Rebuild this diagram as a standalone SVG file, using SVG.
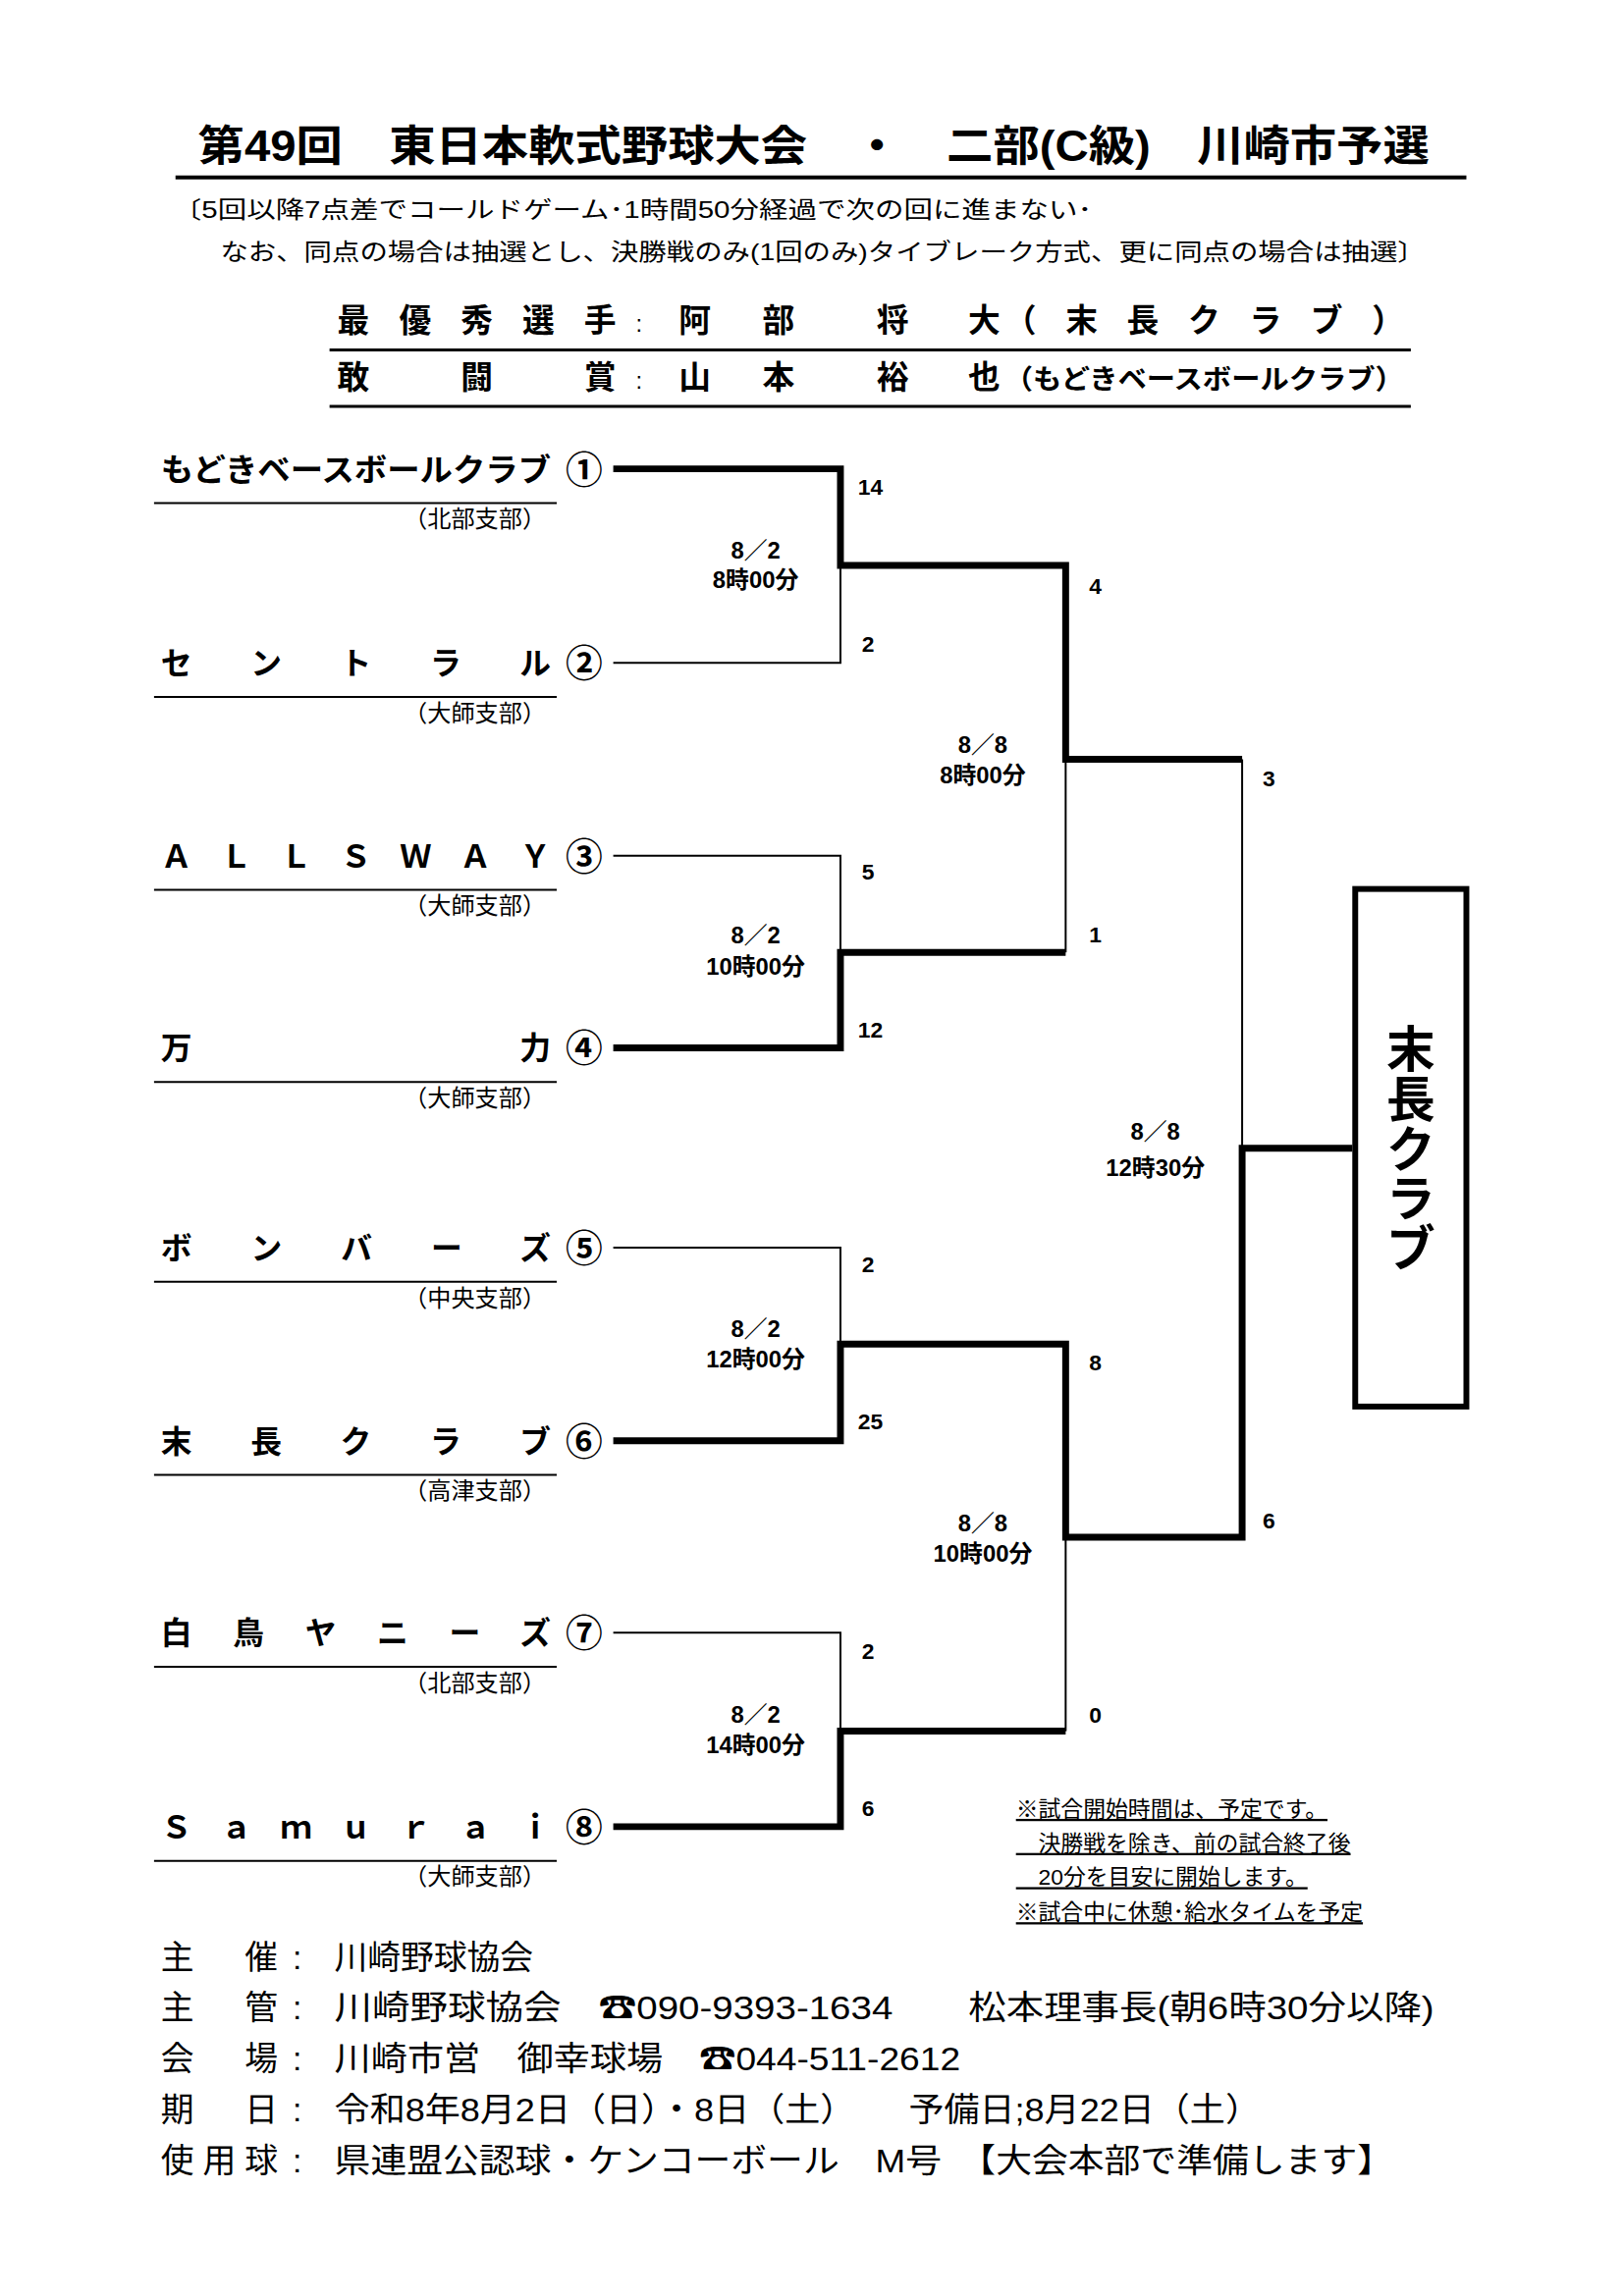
<svg xmlns="http://www.w3.org/2000/svg" width="1654" height="2339" viewBox="0 0 1654 2339">
<style>
text{font-family:"Liberation Sans","Noto Sans CJK JP",sans-serif;fill:#000}
.b{font-weight:bold}
.team{font-size:32px;font-weight:bold}
.br{font-size:24px}
.num{font-size:38px;font-weight:bold}
.sc{font-size:23px;font-weight:bold}
.dt{font-size:24px;font-weight:bold;text-anchor:middle}
.ft{font-size:34px}
.nt{font-size:23px;text-decoration:underline}
.thin{stroke:#000;stroke-width:2;fill:none}
.thick{stroke:#000;stroke-width:7;fill:none}
</style>
<rect width="1654" height="2339" fill="#fff"/>
<g transform="scale(0.993)">
<g id="title">
<text class="b" x="203" y="165" font-size="44" textLength="1263" lengthAdjust="spacingAndGlyphs">第49回　東日本軟式野球大会　・　二部(C級)　川崎市予選</text>
<line x1="180" y1="182" x2="1504" y2="182" stroke="#000" stroke-width="4"/>
</g>
<g id="notes">
<text x="177" y="224" font-size="24" textLength="943" lengthAdjust="spacingAndGlyphs">〔5回以降7点差でコールドゲーム･1時間50分経過で次の回に進まない･</text>
<text x="226" y="267" font-size="24" textLength="1236" lengthAdjust="spacingAndGlyphs">なお、同点の場合は抽選とし、決勝戦のみ(1回のみ)タイブレーク方式、更に同点の場合は抽選〕</text>
</g>
<g id="awards">
<text class="b" x="346" y="340" font-size="33" textLength="286" lengthAdjust="spacing">最優秀選手</text>
<text x="652" y="340" font-size="24">:</text>
<text class="b" x="696 782 899 993" y="340" font-size="33">阿部将大</text>
<text class="b" x="1030" y="340" font-size="33" textLength="410" lengthAdjust="spacing">（末長クラブ）</text>
<line x1="338" y1="359" x2="1447" y2="359" stroke="#000" stroke-width="3"/>
<text class="b" x="346" y="399" font-size="33" textLength="286" lengthAdjust="spacing">敢闘賞</text>
<text x="652" y="399" font-size="24">:</text>
<text class="b" x="696 782 899 993" y="399" font-size="33">山本裕也</text>
<text class="b" x="1030" y="399" font-size="28" textLength="410" lengthAdjust="spacingAndGlyphs">（もどきベースボールクラブ）</text>
<line x1="338" y1="417" x2="1447" y2="417" stroke="#000" stroke-width="3"/>
</g>
<g id="team1"><text class="team" x="165" y="493" textLength="400" lengthAdjust="spacingAndGlyphs">もどきベースボールクラブ</text><text class="num" x="599" y="495" text-anchor="middle">①</text><line x1="158" y1="516" x2="571" y2="516" stroke="#000" stroke-width="2"/><text class="br" x="414" y="541" textLength="146" lengthAdjust="spacingAndGlyphs">（北部支部）</text></g>
<g id="team2"><text class="team" x="165" y="692" textLength="400" lengthAdjust="spacing">セントラル</text><text class="num" x="599" y="694" text-anchor="middle">②</text><line x1="158" y1="715" x2="571" y2="715" stroke="#000" stroke-width="2"/><text class="br" x="414" y="740" textLength="146" lengthAdjust="spacingAndGlyphs">（大師支部）</text></g>
<g id="team3"><text class="team" x="165" y="890" textLength="400" lengthAdjust="spacing">ＡＬＬＳＷＡＹ</text><text class="num" x="599" y="892" text-anchor="middle">③</text><line x1="158" y1="913" x2="571" y2="913" stroke="#000" stroke-width="2"/><text class="br" x="414" y="938" textLength="146" lengthAdjust="spacingAndGlyphs">（大師支部）</text></g>
<g id="team4"><text class="team" x="165" y="1087" textLength="400" lengthAdjust="spacing">万力</text><text class="num" x="599" y="1089" text-anchor="middle">④</text><line x1="158" y1="1110" x2="571" y2="1110" stroke="#000" stroke-width="2"/><text class="br" x="414" y="1135" textLength="146" lengthAdjust="spacingAndGlyphs">（大師支部）</text></g>
<g id="team5"><text class="team" x="165" y="1292" textLength="400" lengthAdjust="spacing">ボンバーズ</text><text class="num" x="599" y="1294" text-anchor="middle">⑤</text><line x1="158" y1="1315" x2="571" y2="1315" stroke="#000" stroke-width="2"/><text class="br" x="414" y="1340" textLength="146" lengthAdjust="spacingAndGlyphs">（中央支部）</text></g>
<g id="team6"><text class="team" x="165" y="1490" textLength="400" lengthAdjust="spacing">末長クラブ</text><text class="num" x="599" y="1492" text-anchor="middle">⑥</text><line x1="158" y1="1513" x2="571" y2="1513" stroke="#000" stroke-width="2"/><text class="br" x="414" y="1538" textLength="146" lengthAdjust="spacingAndGlyphs">（高津支部）</text></g>
<g id="team7"><text class="team" x="165" y="1687" textLength="400" lengthAdjust="spacing">白鳥ヤニーズ</text><text class="num" x="599" y="1689" text-anchor="middle">⑦</text><line x1="158" y1="1710" x2="571" y2="1710" stroke="#000" stroke-width="2"/><text class="br" x="414" y="1735" textLength="146" lengthAdjust="spacingAndGlyphs">（北部支部）</text></g>
<g id="team8"><text class="team" x="165" y="1886" textLength="400" lengthAdjust="spacing">Ｓａｍｕｒａｉ</text><text class="num" x="599" y="1888" text-anchor="middle">⑧</text><line x1="158" y1="1909" x2="571" y2="1909" stroke="#000" stroke-width="2"/><text class="br" x="414" y="1934" textLength="146" lengthAdjust="spacingAndGlyphs">（大師支部）</text></g>
<g id="connectors">
<polyline class="thick" points="629,481 862,481 862,580 1093,580 1093,779 1274,779"/>
<polyline class="thin" points="629,680 862,680 862,580"/>
<polyline class="thin" points="629,878 862,878 862,977"/>
<polyline class="thick" points="629,1075 862,1075 862,977 1093,977"/>
<polyline class="thin" points="1093,977 1093,779"/>
<polyline class="thin" points="1274,779 1274,1178"/>
<polyline class="thin" points="629,1280 862,1280 862,1379"/>
<polyline class="thick" points="629,1478 862,1478 862,1379 1093,1379 1093,1577 1274,1577 1274,1178 1387,1178"/>
<polyline class="thin" points="629,1675 862,1675 862,1776"/>
<polyline class="thick" points="629,1874 862,1874 862,1776 1093,1776"/>
<polyline class="thin" points="1093,1776 1093,1577"/>
</g>
<g id="scores">
<text class="sc" x="880" y="508">14</text><text class="sc" x="884" y="669">2</text>
<text class="sc" x="1117" y="609">4</text><text class="sc" x="884" y="902">5</text>
<text class="sc" x="880" y="1064">12</text><text class="sc" x="1117" y="967">1</text>
<text class="sc" x="1295" y="807">3</text><text class="sc" x="884" y="1305">2</text>
<text class="sc" x="880" y="1466">25</text><text class="sc" x="1117" y="1406">8</text>
<text class="sc" x="1295" y="1568">6</text><text class="sc" x="884" y="1702">2</text>
<text class="sc" x="884" y="1863">6</text><text class="sc" x="1117" y="1767">0</text>
</g>
<g id="dates">
<text class="dt" x="775" y="573">8／2</text><text class="dt" x="775" y="603">8時00分</text>
<text class="dt" x="775" y="968">8／2</text><text class="dt" x="775" y="1000">10時00分</text>
<text class="dt" x="775" y="1372">8／2</text><text class="dt" x="775" y="1403">12時00分</text>
<text class="dt" x="775" y="1767">8／2</text><text class="dt" x="775" y="1799">14時00分</text>
<text class="dt" x="1008" y="772">8／8</text><text class="dt" x="1008" y="804">8時00分</text>
<text class="dt" x="1008" y="1571">8／8</text><text class="dt" x="1008" y="1602">10時00分</text>
<text class="dt" x="1185" y="1169">8／8</text><text class="dt" x="1185" y="1206">12時30分</text>
</g>
<g id="winner">
<rect x="1390" y="912" width="114" height="531" fill="#fff" stroke="#000" stroke-width="6"/>
<text class="b" font-size="50" text-anchor="middle" x="1447" y="1095">末</text>
<text class="b" font-size="50" text-anchor="middle" x="1447" y="1146">長</text>
<text class="b" font-size="50" text-anchor="middle" x="1447" y="1197">ク</text>
<text class="b" font-size="50" text-anchor="middle" x="1447" y="1248">ラ</text>
<text class="b" font-size="50" text-anchor="middle" x="1447" y="1299">ブ</text>
</g>
<g id="remarks">
<text class="nt" x="1042" y="1864">※試合開始時間は、予定です。</text>
<text class="nt" x="1042" y="1899">　決勝戦を除き、前の試合終了後</text>
<text class="nt" x="1042" y="1934">　20分を目安に開始します。</text>
<text class="nt" x="1042" y="1970">※試合中に休憩･給水タイムを予定</text>
</g>
<g id="footer">
<text class="ft" x="165" y="2020" textLength="120" lengthAdjust="spacing">主　催</text><text class="ft" x="300" y="2020">:</text><text class="ft" x="343" y="2020">川崎野球協会</text>
<text class="ft" x="165" y="2072" textLength="120" lengthAdjust="spacing">主　管</text><text class="ft" x="300" y="2072">:</text><text class="ft" x="343" y="2072" textLength="1128" lengthAdjust="spacingAndGlyphs">川崎野球協会　☎090-9393-1634　　松本理事長(朝6時30分以降)</text>
<text class="ft" x="165" y="2124" textLength="120" lengthAdjust="spacing">会　場</text><text class="ft" x="300" y="2124">:</text><text class="ft" x="343" y="2124" textLength="642" lengthAdjust="spacingAndGlyphs">川崎市営　御幸球場　☎044-511-2612</text>
<text class="ft" x="165" y="2176" textLength="120" lengthAdjust="spacing">期　日</text><text class="ft" x="300" y="2176">:</text><text class="ft" x="343" y="2176" textLength="950" lengthAdjust="spacingAndGlyphs">令和8年8月2日（日）・8日（土）　　予備日;8月22日（土）</text>
<text class="ft" x="165" y="2229" textLength="120" lengthAdjust="spacing">使用球</text><text class="ft" x="300" y="2229">:</text><text class="ft" x="343" y="2229" textLength="1086" lengthAdjust="spacingAndGlyphs">県連盟公認球・ケンコーボール　M号　【大会本部で準備します】</text>
</g>
</g>
</svg>
